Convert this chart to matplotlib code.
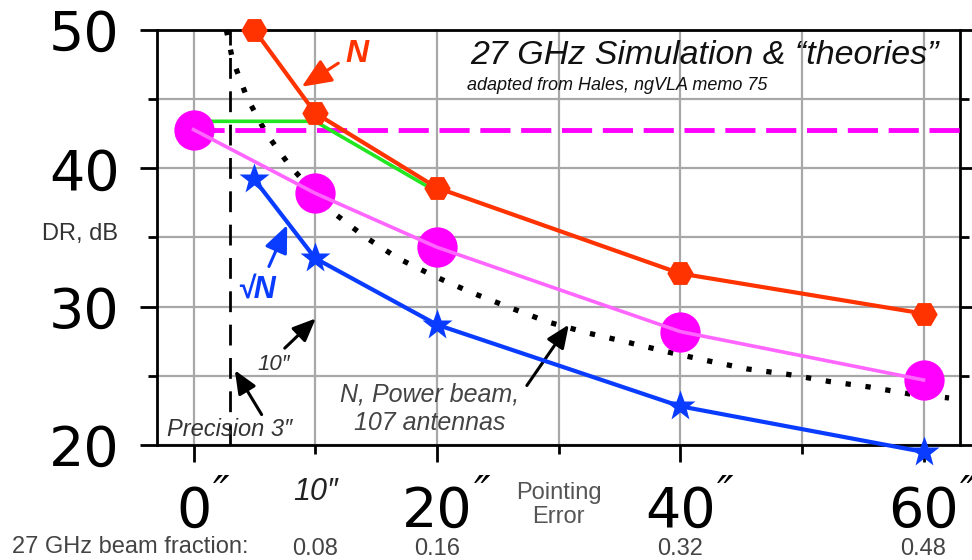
import matplotlib.pyplot as plt
from matplotlib import transforms

plt.rcParams['font.family'] = ['Liberation Sans', 'DejaVu Sans']

# pointing error (arcsec) vs dynamic range (dB)
red_x = [5, 10, 20, 40, 60]
red_dr = [50.0, 44.0, 38.6, 32.4, 29.5]

mag_x = [0, 10, 20, 40, 60]
mag_dr = [42.8, 38.2, 34.3, 28.2, 24.7]

blue_x = [5, 10, 20, 40, 60]
blue_dr = [39.2, 33.5, 28.7, 22.8, 19.5]

green_x = [0, 10, 20]
green_dr = [43.4, 43.4, 38.3]

flat_dr = 42.8     # magenta dashed level
precision = 3      # arcsec, dashed vertical

# "N, Power beam, 107 antennas" dotted theory curve
theory_x = [2.7, 3.2, 4.4, 6.0, 7.9, 11.2, 14.0, 16.8, 19.8, 22.9, 26.1,
            29.1, 32.4, 35.8, 39.1, 42.2, 45.5, 48.9, 52.2, 55.5, 58.8, 62.1]
theory_dr = [50.0, 47.9, 45.1, 42.5, 40.2, 37.0, 35.1, 33.5, 32.2, 31.0, 29.9,
             28.9, 28.1, 27.4, 26.7, 26.1, 25.5, 25.1, 24.6, 24.2, 23.7, 23.4]

err_ticks = [0, 20, 40, 60]
err_minor = [10, 30, 50]
beam_x = [10, 20, 40, 60]
beam_frac = ["0.08", "0.16", "0.32", "0.48"]
dr_ticks = [20, 30, 40, 50]
dr_minor = [25, 35, 45]

W, H = 972, 560
fig = plt.figure(figsize=(W / 100, H / 100), dpi=100)
ax = fig.add_axes([157 / W, 1 - 445 / H, 803 / W, 415 / H])
ax.set_xlim(-3, 63)
ax.set_ylim(20, 50)

# axes, ticks, grid
ax.set_yticks(dr_ticks)
ax.set_yticklabels([str(v) for v in dr_ticks], fontsize=40, family='DejaVu Sans')
ax.set_yticks(dr_minor, minor=True)
ax.set_xticks(err_ticks)
ax.set_xticklabels([])
ax.set_xticks(err_minor, minor=True)
ax.tick_params(which='major', direction='out', length=12, width=2,
               left=True, right=True, bottom=True, pad=15)
ax.tick_params(which='minor', direction='out', length=6.5, width=2,
               left=True, right=True, bottom=True)
ax.grid(which='both', color='#a8a8a8', lw=1.6)
ax.set_axisbelow(True)
for s in ax.spines.values():
    s.set_linewidth(2)

# series
ax.axvline(precision, color='black', lw=2, linestyle=(0, (7.5, 4.5)), zorder=2)
ax.plot(theory_x, theory_dr, color='black', lw=3.8, linestyle=(0, (1, 2.8)),
        dash_capstyle='butt', zorder=3, clip_on=False)
ax.hlines(flat_dr, mag_x[0], ax.get_xlim()[1], color='#ff00ff', lw=3.5,
          linestyle=(0, (6.2, 2.2)), zorder=3)
ax.plot(green_x, green_dr, color='#22e622', lw=2.6, zorder=4)
ax.plot(mag_x, mag_dr, 'o', ms=29, color='#ff00ff', mec='none', zorder=5, clip_on=False)
ax.plot(mag_x, mag_dr, color='#ff66ff', lw=2.6, zorder=5.5, clip_on=False)
ax.plot(red_x, red_dr, color='#ff3300', lw=3, marker='H', ms=19, mec='none',
        zorder=6, clip_on=False)
ax.plot(blue_x, blue_dr, color='#0a3cff', lw=3, marker='*', ms=23, mec='none',
        zorder=6, clip_on=False)


def arrow(tail, tip, color, scale):
    ax.annotate('', xy=tip, xytext=tail, annotation_clip=False,
                arrowprops=dict(arrowstyle='-|>,head_length=0.7,head_width=0.3',
                                color=color, lw=2.2, mutation_scale=scale,
                                shrinkA=0, shrinkB=0))


# annotations
ax.text(13.4, 48.3, 'N', color='#ff3300', fontsize=23, style='italic',
        weight='bold', ha='center', va='center')
arrow((11.9, 47.6), (8.9, 45.9), '#ff3300', 26)
ax.text(5.15, 31.2, '√N', color='#0a3cff', fontsize=22, style='italic',
        weight='bold', ha='center', va='center')
arrow((6.2, 32.9), (7.7, 35.9), '#0a3cff', 24)
ax.text(6.6, 25.8, '10″', color='#333333', fontsize=16, style='italic',
        ha='center', va='center')
arrow((7.5, 27.0), (10.05, 29.15), 'black', 20)
ax.text(3.0, 21.1, 'Precision 3″', color='#333333', fontsize=17, style='italic',
        ha='center', va='center')
arrow((5.6, 22.2), (3.4, 25.4), 'black', 20)
ax.text(19.4, 22.6, 'N, Power beam,\n107 antennas', color='#444444', fontsize=18,
        style='italic', ha='center', va='center', multialignment='center',
        linespacing=1.25)
arrow((27.4, 24.3), (30.85, 28.7), 'black', 20)

fig.text(704 / W, 1 - 56 / H, '27 GHz Simulation & “theories”', fontsize=24.5,
         style='italic', color='#111111', ha='center', va='center')
fig.text(467 / W, 1 - 86 / H, 'adapted from Hales, ngVLA memo 75', fontsize=13,
         style='italic', color='#111111', ha='left', va='center')
fig.text(118 / W, 1 - 234 / H, 'DR, dB', fontsize=17, color='#333333',
         ha='right', va='center')

# x labels
xt = transforms.blended_transform_factory(ax.transData, fig.transFigure)
for v in err_ticks:
    s = str(v)
    ax.text(v, 1 - 527 / H, s, transform=xt, ha='center', va='baseline',
            fontsize=40, family='DejaVu Sans')
    ax.annotate('″', xy=(v, 1 - 474 / H), xycoords=xt,
                xytext=(len(s) * 12.7 + 1, 0), textcoords='offset points',
                ha='left', va='top', fontsize=32, style='italic',
                family='DejaVu Sans', annotation_clip=False)
ax.text(10, 1 - 492 / H, '10″', transform=xt, ha='center', va='center',
        fontsize=22, style='italic', color='#222222')
ax.text(30, 1 - 505 / H, 'Pointing\nError', transform=xt, ha='center',
        va='center', multialignment='center', fontsize=17, color='#555555',
        linespacing=1.1)
fig.text(12 / W, 1 - 553 / H, '27 GHz beam fraction:', fontsize=17,
         color='#444444', va='baseline')
for v, s in zip(beam_x, beam_frac):
    ax.text(v, 1 - 555 / H, s, transform=xt, ha='center', va='baseline',
            fontsize=17, color='#444444')

fig.savefig('out.png', dpi=100)
